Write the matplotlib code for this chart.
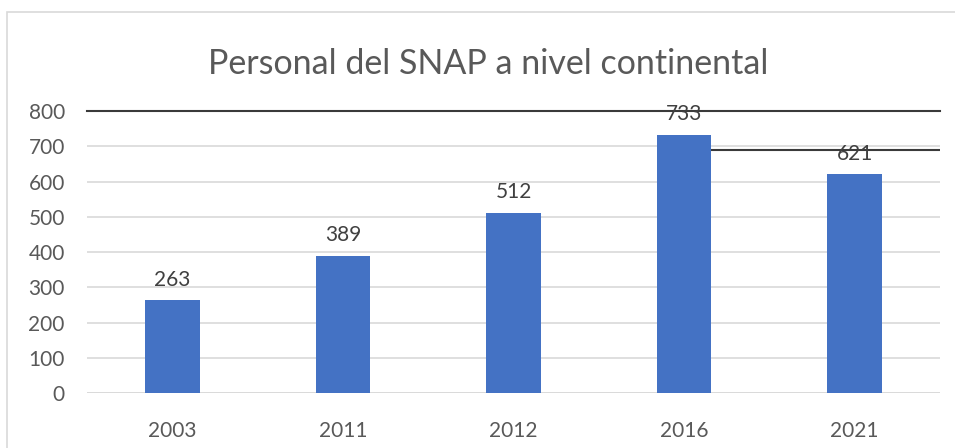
import matplotlib.pyplot as plt
from matplotlib.patches import Rectangle

# datos
anios = ['2003', '2011', '2012', '2016', '2021']
personal = [263, 389, 512, 733, 621]
yticks = [0, 100, 200, 300, 400, 500, 600, 700, 800]
# lineas oscuras que aparecen sobre el grafico original
linea_alta = 800
linea_baja = 688

plt.rcParams['font.family'] = ['Lato', 'DejaVu Sans']
gris = '#595959'

fig = plt.figure(figsize=(9.55, 4.48), dpi=100)
ax = fig.add_axes([87 / 955, 55 / 448, 853 / 955, 282 / 448])

# marco del grafico
fig.patches.append(Rectangle((7 / 955, -0.1), 1.1, (448 - 12) / 448 + 0.1,
                             transform=fig.transFigure, fill=False,
                             edgecolor='#d9d9d9', linewidth=1.2))

x = range(len(anios))
bars = ax.bar(x, personal, width=0.32, color='#4472c4', zorder=3)
for b, v in zip(bars, personal):
    ax.text(b.get_x() + b.get_width() / 2, v + 30, str(v), ha='center',
            va='bottom', fontsize=15, color='#404040', zorder=5)

ax.set_xlim(-0.5, 4.5)
ax.set_ylim(0, 800)
ax.set_yticks(yticks)
ax.set_xticks(list(x))
ax.set_xticklabels(anios)
ax.grid(axis='y', color='#d9d9d9', linewidth=1.2, zorder=0)
ax.tick_params(length=0, labelsize=15, labelcolor=gris)
ax.tick_params(axis='x', pad=20)
ax.tick_params(axis='y', pad=16)
for s in ax.spines.values():
    s.set_visible(False)
ax.axhline(0, color='#d9d9d9', linewidth=1.2, zorder=2)

ax.axhline(linea_alta, color='#3a3a3a', linewidth=1.5, zorder=4, clip_on=False)
ax.hlines(linea_baja, 3 + 0.16, 4.5, color='#3a3a3a', linewidth=1.5, zorder=4)

fig.text(0.511, 0.858, 'Personal del SNAP a nivel continental', ha='center',
         va='center', fontsize=24.5, color=gris)

fig.savefig('out.png', dpi=100)
